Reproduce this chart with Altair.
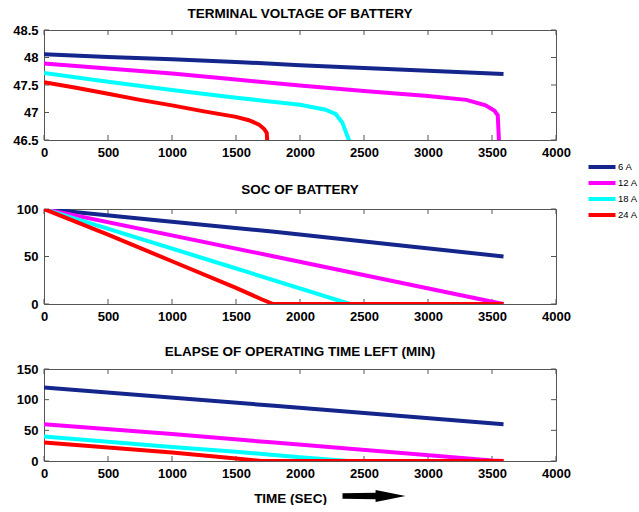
import altair as alt
import pandas as pd

# ---- series ----
SERIES = ["6 A", "12 A", "18 A", "24 A"]
COLORS = ["#14258c", "#ff00ff", "#00ffff", "#ff0000"]

# Terminal voltage (V) against time (s)
volt_6a_t = [0, 500, 1000, 1500, 2000, 2500, 3000, 3590]
volt_6a_v = [48.06, 48.01, 47.97, 47.92, 47.86, 47.81, 47.76, 47.70]
volt_12a_t = [0, 500, 1000, 1500, 2000, 2500, 3000, 3300, 3450, 3520, 3545, 3555]
volt_12a_v = [47.89, 47.80, 47.71, 47.60, 47.49, 47.39, 47.30, 47.23, 47.13, 47.03, 46.95, 46.45]
volt_18a_t = [0, 500, 1000, 1500, 2000, 2200, 2280, 2330, 2390]
volt_18a_v = [47.72, 47.56, 47.41, 47.27, 47.14, 47.05, 46.97, 46.82, 46.45]
volt_24a_t = [0, 250, 500, 750, 1000, 1250, 1500, 1600, 1680, 1720, 1740, 1745]
volt_24a_v = [47.55, 47.45, 47.34, 47.23, 47.13, 47.02, 46.92, 46.86, 46.78, 46.70, 46.63, 46.45]

# State of charge (%) against time (s)
soc_6a_t = [0, 900, 1800, 2700, 3590]
soc_6a_v = [100, 88, 76, 63, 50]
soc_12a_t = [0, 1800, 3550, 3590]
soc_12a_v = [100, 50, 1, 0]
soc_18a_t = [0, 1200, 2390]
soc_18a_v = [100, 50, 0]
soc_24a_t = [0, 500, 1000, 1500, 1700, 1790, 3590]
soc_24a_v = [100, 73, 45, 17, 5, 0, 0]

# Operating time left (min) against time (s)
left_6a_t = [0, 1800, 3590]
left_6a_v = [120, 90, 60]
left_12a_t = [0, 1000, 1800, 3500, 3590]
left_12a_v = [60, 44, 30, 1, 0]
left_18a_t = [0, 1000, 1500, 2000, 2380]
left_18a_v = [40, 23, 15, 6, 0]
left_24a_t = [0, 1000, 1500, 1700, 3590]
left_24a_v = [30, 14, 4, 0, 0]

# ---- axes ----
X_TICKS = [0, 500, 1000, 1500, 2000, 2500, 3000, 3500, 4000]
VOLT_TICKS = [46.5, 47, 47.5, 48, 48.5]
SOC_TICKS = [0, 50, 100]
LEFT_TICKS = [0, 50, 100, 150]

FONT = "Liberation Sans, Arial, sans-serif"
FRAME = "#555555"
W = 512
TICK = 5


def table(groups):
    rows = []
    for name, ts, vs in groups:
        rows += [{"series": name, "t": t, "v": v} for t, v in zip(ts, vs)]
    return pd.DataFrame(rows)


legend = alt.Legend(
    title=None,
    orient="none",
    legendX=553,
    legendY=132,
    symbolType="M-4.5,0H4.5",
    symbolStrokeWidth=4,
    symbolSize=36,
    labelFont=FONT,
    labelFontSize=9.5,
    labelFontWeight="normal",
    labelColor="#000000",
    labelOffset=11,
    rowPadding=0,
    padding=0,
)


def panel(df, ydomain, yticks, title, height, title_offset, xtitle=None):
    xs = alt.Scale(domain=[0, 4000], nice=False, zero=False)
    ys = alt.Scale(domain=ydomain, nice=False, zero=False)
    if xtitle:
        xaxis = alt.Axis(values=X_TICKS, format="d", labelFlush=False,
                         title=xtitle, titleX=246, titlePadding=11)
    else:
        xaxis = alt.Axis(values=X_TICKS, format="d", labelFlush=False, title=None)
    yaxis = alt.Axis(values=yticks, labelExpr="datum.value + ''", title=None)
    x = alt.X("t:Q", scale=xs, axis=xaxis)
    y = alt.Y("v:Q", scale=ys, axis=yaxis)
    lines = alt.Chart(df).mark_line(strokeWidth=4, clip=True).encode(
        x=x, y=y,
        color=alt.Color("series:N", sort=SERIES,
                        scale=alt.Scale(domain=SERIES, range=COLORS), legend=legend),
    )
    xt = pd.DataFrame({"t": X_TICKS})
    yt = pd.DataFrame({"v": yticks})
    rule = dict(color=FRAME, strokeWidth=1)
    # inward tick marks on all four sides of the frame
    top = alt.Chart(xt).mark_rule(**rule).encode(x=x, y=alt.value(0), y2=alt.value(TICK))
    bottom = alt.Chart(xt).mark_rule(**rule).encode(x=x, y=alt.value(height), y2=alt.value(height - TICK))
    left = alt.Chart(yt).mark_rule(**rule).encode(y=y, x=alt.value(0), x2=alt.value(TICK))
    right = alt.Chart(yt).mark_rule(**rule).encode(y=y, x=alt.value(W), x2=alt.value(W - TICK))
    layers = [top, bottom, left, right, lines]
    if xtitle:
        arrow = alt.Chart(xt.head(1)).mark_point(
            shape="M-1,-0.09 L0.05,-0.1 L0.05,-0.19 L1,0 L0.05,0.19 L0.05,0.1 L-1,0.09 Z",
            filled=True, color="#000000", opacity=1, size=3969,
        ).encode(x=alt.value(330), y=alt.value(127))
        layers.append(arrow)
    return alt.layer(*layers).properties(
        width=W, height=height,
        title=alt.TitleParams(title, font=FONT, fontSize=13.5, fontWeight="bold",
                              color="#000000", offset=title_offset, anchor="middle"),
    )


volt = table([("6 A", volt_6a_t, volt_6a_v), ("12 A", volt_12a_t, volt_12a_v),
              ("18 A", volt_18a_t, volt_18a_v), ("24 A", volt_24a_t, volt_24a_v)])
soc = table([("6 A", soc_6a_t, soc_6a_v), ("12 A", soc_12a_t, soc_12a_v),
             ("18 A", soc_18a_t, soc_18a_v), ("24 A", soc_24a_t, soc_24a_v)])
left = table([("6 A", left_6a_t, left_6a_v), ("12 A", left_12a_t, left_12a_v),
              ("18 A", left_18a_t, left_18a_v), ("24 A", left_24a_t, left_24a_v)])

upper = alt.vconcat(
    panel(volt, [46.5, 48.5], VOLT_TICKS, "TERMINAL VOLTAGE OF BATTERY", 110, 4),
    panel(soc, [0, 100], SOC_TICKS, "SOC OF BATTERY", 95, 7),
    spacing=22,
)
chart = alt.vconcat(
    upper,
    panel(left, [0, 150], LEFT_TICKS, "ELAPSE OF OPERATING TIME LEFT (MIN)", 92, 5,
          xtitle="TIME (SEC)"),
    spacing=20,
).properties(
    padding={"left": 12, "top": 6, "right": 0, "bottom": 0},
    background="#ffffff",
).configure_view(
    stroke=FRAME, strokeWidth=1,
).configure_axis(
    domain=False, ticks=False, grid=False,
    labelFont=FONT, labelFontSize=13, labelFontWeight="bold", labelColor="#000000",
    labelPadding=6,
    titleFont=FONT, titleFontSize=13.5, titleFontWeight="bold", titleColor="#000000",
)

chart.save("out.html", embed_options={"renderer": "svg", "actions": False})
